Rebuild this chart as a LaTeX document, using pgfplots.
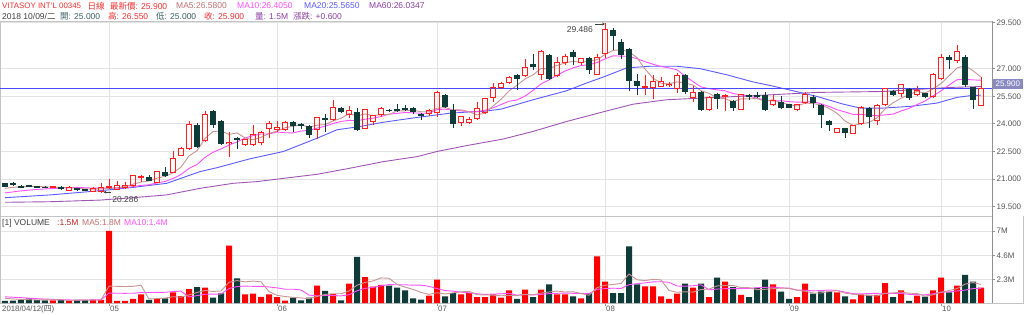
\documentclass[border=0pt]{standalone}
\usepackage{fontspec}
\setmainfont{Liberation Sans}
\newfontfamily\cjk{Noto Sans CJK TC}
\usepackage{pgfplots}
\pgfplotsset{compat=1.18}
\usepackage{pgfplotstable}
\usetikzlibrary{arrows.meta}

\definecolor{upred}{HTML}{FF2020}
\definecolor{volred}{HTML}{FF0000}
\definecolor{downdk}{HTML}{0F3B38}
\definecolor{maA}{HTML}{C89494}
\definecolor{maB}{HTML}{FF50FF}
\definecolor{maC}{HTML}{5B5BFF}
\definecolor{maD}{HTML}{A055B5}
\definecolor{hline}{HTML}{4848FF}
\definecolor{gridgray}{HTML}{E3E3E3}
\definecolor{axisgray}{HTML}{C4C4C4}
\definecolor{rightgray}{HTML}{909090}
\definecolor{labgray}{HTML}{555555}
\definecolor{boxcol}{HTML}{8A8AC0}
\definecolor{hdrred}{HTML}{F03030}
\definecolor{maAtxt}{HTML}{C07070}
\definecolor{tealtxt}{HTML}{3A6060}
\definecolor{purptxt}{HTML}{8B3FA0}
\definecolor{darktxt}{HTML}{404040}

% up (red, hollow) candles: index open high low close volume(M)
\pgfplotstableread{
i o h l c v
6 20.56 20.63 20.52 20.58 0.26
8 20.39 20.60 20.37 20.57 0.22
11 20.35 20.55 20.32 20.50 0.32
12 20.32 20.81 20.286 20.54 0.30
13 20.54 20.99 20.45 20.62 7.00
14 20.46 20.90 20.43 20.64 0.20
15 20.54 20.86 20.50 20.63 0.20
16 20.64 21.22 20.60 21.19 0.40
17 21.11 21.23 20.86 21.12 0.85
19 20.83 21.45 20.80 21.41 0.40
21 21.37 22.50 21.33 22.13 1.04
22 22.31 22.72 22.28 22.68 0.68
23 22.68 24.13 22.60 23.95 1.36
25 23.08 24.71 23.00 24.53 1.49
28 22.97 23.58 22.22 23.00 5.57
30 22.86 23.20 22.80 23.18 0.84
31 22.86 23.95 22.80 23.44 0.90
32 23.00 23.60 22.85 23.55 0.60
33 23.77 24.17 23.26 24.04 0.84
34 23.68 24.13 23.55 23.82 0.58
35 23.68 24.13 23.60 24.09 0.23
39 23.68 24.40 23.19 24.35 1.68
41 24.22 25.31 24.13 24.89 0.87
43 24.53 24.95 24.31 24.71 1.88
45 23.77 24.82 23.72 24.77 2.52
46 24.13 24.50 23.95 24.46 1.59
47 24.49 24.90 24.40 24.86 1.75
53 24.55 24.80 24.42 24.73 0.71
54 24.64 25.76 24.40 25.73 2.27
57 24.08 24.45 23.91 24.40 0.84
58 24.08 24.35 23.98 24.26 0.97
59 24.31 25.18 24.20 24.86 0.58
60 24.64 25.40 24.55 25.37 0.58
61 25.44 26.22 25.18 25.98 0.84
62 25.98 26.30 25.90 26.20 0.52
63 26.27 26.60 26.15 26.53 1.23
65 26.64 27.54 26.55 27.07 1.29
67 26.68 28.03 26.40 27.94 1.29
69 26.64 27.62 26.55 27.36 0.84
70 27.34 27.80 27.20 27.67 0.84
72 27.34 27.60 27.20 27.53 0.45
74 26.71 27.80 26.65 27.62 4.53
75 27.80 29.486 27.60 29.12 2.07
80 26.00 26.64 25.58 26.04 1.62
81 26.00 26.67 25.37 26.31 1.62
82 26.06 26.53 26.00 26.31 0.65
83 26.12 26.30 26.00 26.13 0.39
84 25.95 26.74 25.70 26.64 0.90
86 25.44 26.04 25.18 25.73 1.49
88 24.77 25.50 24.68 25.44 0.58
90 25.50 25.62 24.68 25.53 2.07
92 24.80 25.62 24.75 25.58 0.78
96 25.07 25.58 24.95 25.26 1.81
99 24.77 25.10 24.73 25.07 0.58
100 25.18 25.73 25.10 25.58 1.88
104 23.55 23.80 23.50 23.77 1.04
106 23.50 23.95 23.45 23.91 0.36
107 24.04 24.95 23.95 24.89 0.84
109 24.17 25.10 23.95 25.00 0.78
110 25.04 25.95 24.95 25.91 1.94
112 25.67 26.16 25.44 26.13 1.23
114 25.58 26.07 25.50 25.80 0.71
116 25.49 26.76 25.40 26.67 1.23
117 26.49 27.80 26.40 27.62 2.46
119 27.44 28.27 27.30 27.94 1.68
122 25.00 26.55 25.00 25.90 1.49
}\uptab

% down (dark, filled) candles
\pgfplotstableread{
i o h l c v
0 20.77 20.80 20.55 20.59 0.20
1 20.81 20.85 20.65 20.68 0.22
2 20.64 20.66 20.50 20.53 0.30
3 20.66 20.70 20.57 20.60 0.45
4 20.60 20.64 20.55 20.59 0.30
5 20.59 20.62 20.50 20.52 0.26
7 20.57 20.60 20.42 20.44 0.30
9 20.50 20.53 20.37 20.39 0.30
10 20.46 20.48 20.35 20.37 0.30
18 21.13 21.20 20.88 20.90 0.30
20 21.37 21.68 21.12 21.15 0.45
24 23.95 24.04 22.70 22.77 1.55
26 24.68 24.73 23.80 23.95 0.52
27 24.13 24.20 22.85 22.90 0.94
29 23.22 23.31 22.64 23.18 2.39
36 24.09 24.13 23.55 23.86 0.52
37 23.96 24.04 23.73 23.93 0.26
38 23.86 23.95 23.26 23.40 0.52
40 24.31 24.53 23.55 24.22 1.17
42 24.89 24.93 24.60 24.64 0.26
44 24.64 24.89 23.60 23.68 4.47
48 24.77 24.82 24.62 24.71 1.68
49 24.78 25.07 24.62 24.77 1.49
50 24.86 25.04 24.68 24.73 1.23
51 24.86 24.90 24.55 24.64 0.45
52 24.55 24.58 24.20 24.44 0.32
55 25.58 25.62 24.86 24.93 0.65
56 24.77 25.07 23.80 23.99 0.97
64 26.64 26.70 25.86 26.44 0.39
66 27.25 27.80 26.95 27.07 0.58
68 27.76 27.80 26.40 26.46 1.81
71 27.90 28.00 27.18 27.62 0.65
73 27.58 27.65 26.70 26.94 0.97
76 29.12 29.20 28.03 28.76 0.97
77 28.45 28.63 27.50 27.73 0.97
78 28.07 28.10 25.80 26.35 5.50
79 26.31 26.70 25.58 26.04 1.81
85 26.64 26.70 25.60 25.73 1.88
87 25.73 25.80 24.71 24.77 1.88
89 25.62 25.70 24.82 25.37 2.46
91 25.22 25.30 24.71 24.89 1.55
93 25.58 25.65 25.30 25.44 0.58
94 25.58 25.73 25.40 25.48 1.49
95 25.58 25.73 24.71 24.77 2.27
97 25.18 25.50 24.82 24.86 1.10
98 25.07 25.10 24.84 24.89 0.39
101 25.44 25.58 24.89 25.13 0.90
102 25.00 25.10 23.80 24.46 1.10
103 24.17 24.20 23.62 23.95 1.10
105 23.77 23.80 23.26 23.50 0.65
108 24.89 24.93 23.80 24.35 0.78
111 25.80 25.86 25.50 25.58 0.58
113 25.91 25.95 25.30 25.40 0.20
115 25.67 25.70 25.40 25.47 0.61
118 27.62 27.73 27.00 27.49 1.04
120 27.62 27.76 26.00 26.09 2.72
121 25.98 26.00 24.82 25.30 2.07
}\dntab

\pgfplotsset{
  kaxis/.style={scale only axis, width=992pt, clip=false,
    xmin=-0.625, xmax=123.375,
    axis line style={draw=axisgray, line width=0.8pt},
    xtick={13,34,54,75,98,117}, xticklabels={},
    ytick pos=right, yticklabel pos=right, tick align=outside,
    major tick length=3pt,
    ytick style={draw=rightgray, line width=0.8pt},
    yticklabel style={font=\fontsize{8}{9}\selectfont, text=labgray, inner sep=1.5pt},
    grid=major, major grid style={draw=gridgray, line width=0.8pt}},
  ebar/.style={draw=none, mark=none, forget plot},
}

\begin{document}
\begin{tikzpicture}
\useasboundingbox (0,0) rectangle (1024pt,314pt);
\fill[white] (0,0) rectangle (1024pt,314pt);

% ---------------- price panel ----------------
\begin{axis}[kaxis, at={(0pt,98pt)}, anchor=south west, height=195pt,
  ymin=18.995, ymax=29.59, xtick style={draw=none},
  ytick={19.5,21,22.5,24,25.5,27,29.5},
  yticklabels={19.500,21.000,22.500,24.000,25.500,27.000,29.500}]

% MA60
\addplot[maD, line width=0.9pt, mark=none] coordinates {
(0,19.74) (5.6,19.77) (11.9,19.86) (16,19.99) (20.2,20.14) (24.4,20.50) (28.5,20.77)
(31.4,20.86) (34.8,21.04) (39,21.26) (43.1,21.59) (47.3,21.95) (51.5,22.22) (54,22.50)
(57.7,22.82) (62.3,23.18) (66,23.59) (70.2,24.13) (75,24.68) (78.5,25.07) (82.7,25.31)
(86.9,25.40) (93.5,25.53) (101.5,25.71) (109.8,25.76) (118.1,25.98) (122,26.03)};
% MA20
\addplot[maC, line width=0.9pt, mark=none] coordinates {
(0,19.99) (5.6,20.14) (11.9,20.37) (16,20.55) (20.2,20.77) (24.4,21.41) (26.5,21.62)
(30.6,22.10) (34.8,22.50) (39,23.22) (41.5,23.68) (44.4,23.86) (47.3,24.09) (51.5,24.35)
(54,24.49) (55.6,24.58) (57.7,24.64) (59.8,24.68) (62,24.80) (66,25.31) (70.2,25.80)
(72.7,26.22) (75,26.58) (77.7,27.04) (80.6,27.13) (84,27.13) (86.9,27.00) (90.2,26.67)
(93.5,26.28) (95.6,26.09) (98.5,25.80) (101.5,25.49) (104.8,25.07) (106.9,24.86)
(109.8,24.86) (113.1,24.95) (116.5,25.13) (119,25.44) (120.6,25.53) (122,25.56)};
% MA10
\addplot[maB, line width=0.9pt, mark=none] coordinates {
(0,20.25) (2,20.36) (4,20.44) (6,20.49) (8,20.53) (9,20.55) (10,20.53) (11,20.51) (12,20.51)
(13,20.51) (14,20.52) (15,20.53) (16,20.59) (17,20.66) (18,20.69) (19,20.79) (20,20.87)
(21,21.03) (22,21.25) (23,21.58) (24,21.79) (25,22.18) (26,22.46) (27,22.64) (28,22.85)
(29,23.02) (30,23.23) (31,23.36) (32,23.45) (33,23.45) (34,23.56) (35,23.52) (36,23.51)
(37,23.61) (38,23.65) (39,23.77) (40,23.87) (41,24.02) (42,24.13) (43,24.19) (44,24.18)
(45,24.25) (46,24.31) (47,24.40) (48,24.53) (49,24.57) (50,24.62) (51,24.60) (52,24.58)
(53,24.58) (54,24.78) (55,24.80) (56,24.75) (57,24.71) (58,24.66) (59,24.67) (60,24.74)
(61,24.87) (62,25.05) (63,25.23) (64,25.30) (65,25.51) (66,25.82) (67,26.17) (68,26.39)
(69,26.64) (70,26.87) (71,27.04) (72,27.17) (73,27.21) (74,27.33) (75,27.53) (76,27.70)
(77,27.68) (78,27.67) (79,27.54) (80,27.38) (81,27.24) (82,27.12) (83,27.04) (84,26.94)
(85,26.60) (86,26.30) (87,26.01) (88,25.91) (89,25.85) (90,25.80) (91,25.65) (92,25.58)
(93,25.51) (94,25.40) (95,25.30) (96,25.25) (97,25.26) (98,25.21) (99,25.18) (100,25.18)
(101,25.21) (102,25.09) (103,24.95) (104,24.77) (105,24.65) (106,24.51) (107,24.52)
(108,24.46) (109,24.45) (110,24.49) (111,24.53) (112,24.70) (113,24.84) (114,25.05)
(115,25.24) (116,25.52) (117,25.79) (118,26.11) (119,26.40) (120,26.42) (121,26.39) (122,26.37)};
% MA5
\addplot[maA, line width=0.9pt, mark=none] coordinates {
(0,20.50) (1,20.55) (2,20.58) (3,20.60) (4,20.60) (5,20.58) (6,20.56) (7,20.55) (8,20.54)
(9,20.50) (10,20.47) (11,20.45) (12,20.47) (13,20.48) (14,20.53) (15,20.59) (16,20.72)
(17,20.84) (18,20.90) (19,21.05) (20,21.15) (21,21.34) (22,21.65) (23,22.26) (24,22.54)
(25,23.21) (26,23.58) (27,23.62) (28,23.43) (29,23.51) (30,23.24) (31,23.14) (32,23.27)
(33,23.48) (34,23.61) (35,23.79) (36,23.87) (37,23.95) (38,23.82) (39,23.93) (40,23.96)
(41,24.16) (42,24.30) (43,24.56) (44,24.43) (45,24.54) (46,24.45) (47,24.50) (48,24.50)
(49,24.71) (50,24.71) (51,24.74) (52,24.66) (53,24.66) (54,24.85) (55,24.89) (56,24.76)
(57,24.76) (58,24.66) (59,24.49) (60,24.58) (61,24.97) (62,25.33) (63,25.79) (64,26.10)
(65,26.44) (66,26.66) (67,27.01) (68,27.00) (69,27.18) (70,27.30) (71,27.41) (72,27.33)
(73,27.42) (74,27.48) (75,27.77) (76,27.99) (77,28.03) (78,27.92) (79,27.60) (80,26.98)
(81,26.49) (82,26.21) (83,26.17) (84,26.29) (85,26.22) (86,26.11) (87,25.80) (88,25.66)
(89,25.41) (90,25.37) (91,25.20) (92,25.36) (93,25.36) (94,25.38) (95,25.23) (96,25.31)
(97,25.16) (98,25.05) (99,24.97) (100,25.13) (101,25.11) (102,25.03) (103,24.84) (104,24.58)
(105,24.16) (106,23.92) (107,24.00) (108,24.08) (109,24.33) (110,24.81) (111,25.15)
(112,25.39) (113,25.60) (114,25.76) (115,25.68) (116,25.89) (117,26.19) (118,26.61)
(119,27.04) (120,27.16) (121,26.89) (122,26.54)};
% last price line
\addplot[hline, line width=0.9pt, mark=none] coordinates {(-0.625,25.9) (123.375,25.9)};

% down candles: wick and body
\addplot[ebar, error bars/.cd, y dir=minus, y explicit, error mark=none,
  error bar style={draw=downdk, line width=0.9pt}]
  table[x=i, y=h, y error minus expr=\thisrow{h}-\thisrow{l}] {\dntab};
\addplot[ebar, error bars/.cd, y dir=both, y explicit, error mark=none,
  error bar style={draw=downdk, line width=6pt}]
  table[x=i, y expr=(\thisrow{o}+\thisrow{c})/2, y error expr={max((\thisrow{o}-\thisrow{c})/2,0.03)}] {\dntab};

% up candles: wicks and hollow body outline
\addplot[ebar, error bars/.cd, y dir=minus, y explicit, error mark=none,
  error bar style={draw=upred, line width=0.9pt}]
  table[x=i, y=o, y error minus expr=\thisrow{o}-\thisrow{l}] {\uptab};
\addplot[ebar, error bars/.cd, y dir=plus, y explicit, error mark=none,
  error bar style={draw=upred, line width=0.9pt}]
  table[x=i, y=c, y error plus expr=\thisrow{h}-\thisrow{c}] {\uptab};
\addplot[ebar, error bars/.cd, y dir=both, y explicit, error mark=none,
  error bar style={draw=upred, line width=0.9pt}]
  table[x expr=\thisrow{i}-0.32, y expr=(\thisrow{o}+\thisrow{c})/2, y error expr=(\thisrow{c}-\thisrow{o})/2] {\uptab};
\addplot[ebar, error bars/.cd, y dir=both, y explicit, error mark=none,
  error bar style={draw=upred, line width=0.9pt}]
  table[x expr=\thisrow{i}+0.32, y expr=(\thisrow{o}+\thisrow{c})/2, y error expr=(\thisrow{c}-\thisrow{o})/2] {\uptab};
\addplot[ebar, error bars/.cd, x dir=both, x fixed=0.32, error mark=none,
  error bar style={draw=upred, line width=0.9pt, line cap=rect}]
  table[x=i, y=c] {\uptab};
\addplot[ebar, error bars/.cd, x dir=both, x fixed=0.32, error mark=none,
  error bar style={draw=upred, line width=0.9pt, line cap=rect}]
  table[x=i, y=o] {\uptab};

% right border
\draw[rightgray, line width=1pt] (rel axis cs:1,0) -- (rel axis cs:1,1);

% annotations
\node[anchor=east, inner sep=0pt, text=darktxt, font=\fontsize{8.5}{10}\selectfont] at (axis cs:73.5,29.12) {29.486};
\draw[darktxt, line width=0.8pt, -{Stealth[length=3pt,width=3pt]}] (axis cs:73.8,29.43) -- (axis cs:75.0,29.43);
\node[anchor=west, inner sep=0pt, text=darktxt, font=\fontsize{8.5}{10}\selectfont] at (axis cs:13.4,19.88) {20.286};
\draw[darktxt, line width=0.8pt, -{Stealth[length=3pt,width=3pt]}] (axis cs:13.2,20.29) -- (axis cs:12.3,20.29);

% last price box
\node[fill=boxcol, text=white, anchor=south west, inner sep=0.8pt, minimum width=30pt, minimum height=9.5pt,
  font=\fontsize{8}{9}\selectfont] at (axis cs:123.45,25.9) {25.900};
\end{axis}

% ---------------- volume panel ----------------
\begin{axis}[kaxis, at={(0pt,11pt)}, anchor=south west, height=87pt,
  ymin=0, ymax=8.45, xtick pos=bottom, xtick style={draw=rightgray, line width=0.8pt},
  ytick={2.3,4.6,7}, yticklabels={2.3M,4.6M,7M}]
\addplot[ybar, bar width=6pt, bar shift=0pt, fill=volred, draw=none] table[x=i, y=v] {\uptab};
\addplot[ybar, bar width=6pt, bar shift=0pt, fill=downdk, draw=none] table[x=i, y=v] {\dntab};
% volume MA10
\addplot[maB, line width=0.9pt, mark=none] coordinates {
(0,0.60) (2,0.52) (4,0.42) (6,0.35) (8,0.30) (9,0.28) (10,0.29) (11,0.30) (12,0.30) (13,0.96)
(14,0.95) (15,0.94) (16,0.95) (17,1.01) (18,1.02) (19,1.03) (20,1.04) (21,1.11) (22,1.15)
(23,0.59) (24,0.72) (25,0.85) (26,0.86) (27,0.87) (28,1.40) (29,1.60) (30,1.64) (31,1.62)
(32,1.62) (33,1.56) (34,1.47) (35,1.34) (36,1.34) (37,1.27) (38,0.77) (39,0.70) (40,0.73)
(41,0.73) (42,0.69) (43,0.80) (44,1.19) (45,1.42) (46,1.52) (47,1.67) (48,1.79) (49,1.77)
(50,1.77) (51,1.73) (52,1.74) (53,1.62) (54,1.40) (55,1.21) (56,1.15) (57,1.06) (58,0.99)
(59,0.90) (60,0.83) (61,0.87) (62,0.89) (63,0.95) (64,0.76) (65,0.82) (66,0.78) (67,0.83)
(68,0.91) (69,0.94) (70,0.96) (71,0.94) (72,0.94) (73,0.91) (74,1.33) (75,1.40) (76,1.44)
(77,1.41) (78,1.78) (79,1.88) (80,1.95) (81,2.05) (82,2.07) (83,2.01) (84,1.65) (85,1.63)
(86,1.68) (87,1.77) (88,1.28) (89,1.35) (90,1.39) (91,1.39) (92,1.40) (93,1.42) (94,1.48)
(95,1.52) (96,1.55) (97,1.47) (98,1.45) (99,1.26) (100,1.24) (101,1.18) (102,1.21) (103,1.26)
(104,1.22) (105,1.06) (106,0.91) (107,0.88) (108,0.92) (109,0.94) (110,0.95) (111,0.92)
(112,0.93) (113,0.84) (114,0.81) (115,0.80) (116,0.89) (117,1.05) (118,1.08) (119,1.17)
(120,1.25) (121,1.40) (122,1.42)};
% volume MA5
\addplot[maA, line width=0.9pt, mark=none] coordinates {
(0,0.45) (1,0.40) (2,0.35) (3,0.32) (4,0.29) (5,0.31) (6,0.31) (7,0.31) (8,0.27) (9,0.27)
(10,0.28) (11,0.29) (12,0.29) (13,1.64) (14,1.62) (15,1.60) (16,1.62) (17,1.73) (18,0.39)
(19,0.43) (20,0.48) (21,0.61) (22,0.57) (23,0.79) (24,1.02) (25,1.22) (26,1.12) (27,1.17)
(28,2.01) (29,2.18) (30,2.05) (31,2.13) (32,2.06) (33,1.11) (34,0.75) (35,0.63) (36,0.55)
(37,0.49) (38,0.42) (39,0.64) (40,0.83) (41,0.90) (42,0.90) (43,1.17) (44,1.73) (45,2.00)
(46,2.14) (47,2.44) (48,2.40) (49,1.81) (50,1.55) (51,1.32) (52,1.03) (53,0.84) (54,1.00)
(55,0.88) (56,0.98) (57,1.09) (58,1.14) (59,0.80) (60,0.79) (61,0.76) (62,0.70) (63,0.75)
(64,0.71) (65,0.85) (66,0.80) (67,0.96) (68,1.07) (69,1.16) (70,1.07) (71,1.09) (72,0.92)
(73,0.75) (74,1.49) (75,1.73) (76,1.80) (77,1.90) (78,2.81) (79,2.26) (80,2.17) (81,2.30)
(82,2.24) (83,1.22) (84,1.04) (85,1.09) (86,1.06) (87,1.31) (88,1.35) (89,1.66) (90,1.70)
(91,1.71) (92,1.49) (93,1.49) (94,1.29) (95,1.33) (96,1.39) (97,1.45) (98,1.41) (99,1.23)
(100,1.15) (101,0.97) (102,0.97) (103,1.11) (104,1.20) (105,0.96) (106,0.85) (107,0.80)
(108,0.73) (109,0.68) (110,0.94) (111,0.98) (112,1.06) (113,0.95) (114,0.93) (115,0.67)
(116,0.80) (117,1.04) (118,1.21) (119,1.40) (120,1.83) (121,1.99) (122,1.80)};
\draw[rightgray, line width=1pt] (rel axis cs:1,0) -- (rel axis cs:1,1);
\end{axis}

% volume label-area frame
\draw[axisgray, line width=0.8pt] (992pt,11pt) -- (1023.4pt,11pt) -- (1023.4pt,98pt);

% ---------------- header texts ----------------
\begin{scope}[every node/.style={anchor=west, inner sep=0pt, font=\fontsize{8.5}{10}\selectfont}]
\node[text=hdrred, font=\fontsize{7.9}{10}\selectfont] at (2pt,308pt) {VITASOY INT'L 00345};
\node[text=hdrred] at (87.5pt,308pt) {\cjk 日線};
\node[text=hdrred] at (110pt,308pt) {{\cjk 最新價}: 25.900};
\node[text=maAtxt] at (176pt,308pt) {MA5:26.5800};
\node[text=maB] at (237pt,308pt) {MA10:26.4050};
\node[text=maC] at (304pt,308pt) {MA20:25.5650};
\node[text=purptxt] at (369pt,308pt) {MA60:26.0347};

\node[text=darktxt] at (2pt,297.5pt) {2018 10/09/{\cjk 二}};
\node[text=tealtxt] at (60pt,297.5pt) {{\cjk 開}: 25.000};
\node[text=hdrred] at (108pt,297.5pt) {{\cjk 高}: 26.550};
\node[text=tealtxt] at (156pt,297.5pt) {{\cjk 低}: 25.000};
\node[text=hdrred] at (204pt,297.5pt) {{\cjk 收}: 25.900};
\node[text=purptxt] at (255pt,297.5pt) {{\cjk 量}: 1.5M};
\node[text=purptxt] at (293pt,297.5pt) {{\cjk 漲跌}: +0.600};

\node[text=darktxt] at (2pt,91pt) {[1] VOLUME};
\node[text=hdrred!80!black] at (57pt,91pt) {:1.5M};
\node[text=maAtxt] at (82pt,91pt) {MA5:1.8M};
\node[text=maB] at (124pt,91pt) {MA10:1.4M};
\end{scope}

% ---------------- date labels ----------------
\begin{scope}[every node/.style={anchor=west, inner sep=0pt, text=labgray, font=\fontsize{7.8}{9}\selectfont}]
\node at (2pt,5pt) {2018/04/12({\cjk 四})};
\node at (110pt,5pt) {05};
\node at (278pt,5pt) {06};
\node at (438pt,5pt) {07};
\node at (606pt,5pt) {08};
\node at (790pt,5pt) {09};
\node at (942pt,5pt) {10};
\end{scope}
\end{tikzpicture}
\end{document}
